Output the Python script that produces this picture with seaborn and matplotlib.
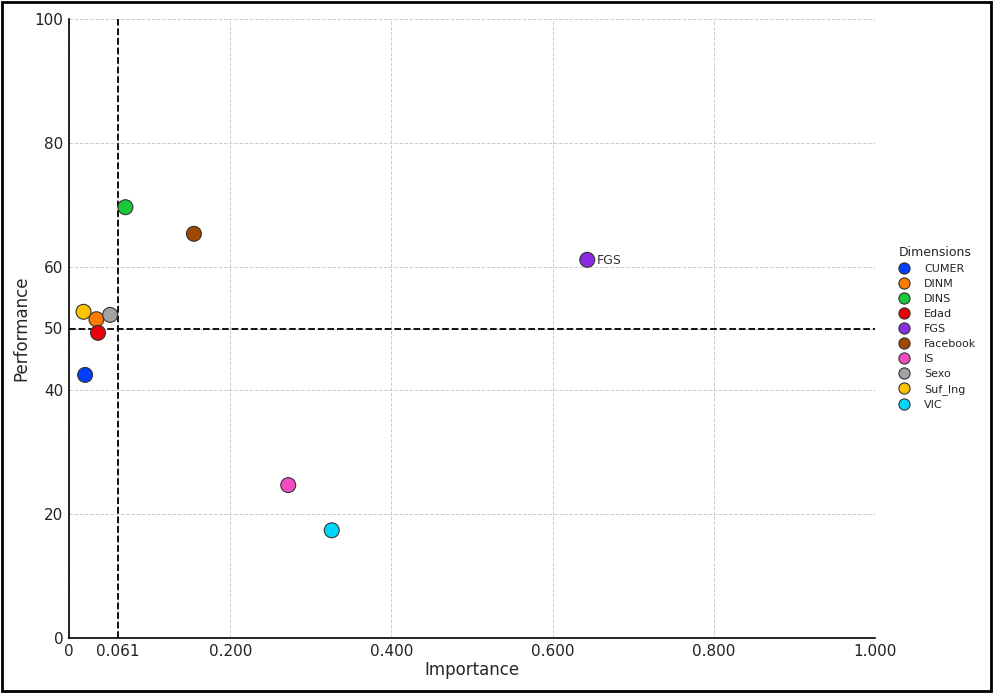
import matplotlib
matplotlib.use("Agg")
import matplotlib.pyplot as plt
import seaborn as sns
import pandas as pd

dimensions = ["CUMER", "DINM", "DINS", "Edad", "FGS", "Facebook", "IS", "Sexo", "Suf_Ing", "VIC"]
importance = [0.020, 0.034, 0.070, 0.036, 0.643, 0.155, 0.272, 0.051, 0.018, 0.326]
performance = [42.5, 51.5, 69.6, 49.3, 61.1, 65.3, 24.7, 52.2, 52.7, 17.4]

x_ticks = [0, 0.061, 0.2, 0.4, 0.6, 0.8, 1.0]
x_labels = ["0", "0.061", "0.200", "0.400", "0.600", "0.800", "1.000"]
y_ticks = [0, 20, 40, 50, 60, 80, 100]
importance_cut = 0.061
performance_cut = 50

df = pd.DataFrame({"Dimensions": dimensions, "Importance": importance, "Performance": performance})

sns.set_style("white")
fig = plt.figure(figsize=(9.93, 6.93), dpi=100)
ax = fig.add_axes([69 / 993, 1 - 638 / 693, (875 - 69) / 993, (638 - 19) / 693])

sns.scatterplot(data=df, x="Importance", y="Performance", hue="Dimensions",
                palette="bright", s=115, edgecolor="#333333", linewidth=0.8,
                ax=ax, zorder=3)

ax.axvline(importance_cut, color="black", linestyle="--", linewidth=1.3, zorder=2)
ax.axhline(performance_cut, color="black", linestyle="--", linewidth=1.3, zorder=2)

ax.annotate("FGS", (importance[4], performance[4]), xytext=(7, -3),
            textcoords="offset points", fontsize=9, color="#333333")

ax.set_xlim(0, 1.0)
ax.set_ylim(0, 100)
ax.set_xticks(x_ticks)
ax.set_xticklabels(x_labels, fontsize=11)
ax.set_yticks(y_ticks)
ax.set_yticklabels([str(v) for v in y_ticks], fontsize=11)
ax.tick_params(axis="both", length=0, pad=4, labelcolor="#222222")
ax.set_xlabel("Importance", fontsize=12, labelpad=2)
ax.set_ylabel("Performance", fontsize=12, labelpad=3)
ax.grid(True, linestyle="--", color="#cccccc", linewidth=0.7, zorder=0)
ax.set_axisbelow(True)
for side in ["top", "right"]:
    ax.spines[side].set_visible(False)
for side in ["left", "bottom"]:
    ax.spines[side].set_color("black")
    ax.spines[side].set_linewidth(1.2)

leg = ax.legend(title="Dimensions", loc="upper left", bbox_to_anchor=(1.01, 0.65),
                frameon=False, fontsize=8, title_fontsize=9, handletextpad=0.8,
                labelspacing=0.45, markerscale=0.75)

border = plt.Rectangle((0.002, 0.003), 0.996, 0.994, transform=fig.transFigure,
                       fill=False, edgecolor="black", linewidth=2)
fig.patches.append(border)

fig.savefig("out.png", dpi=100)
